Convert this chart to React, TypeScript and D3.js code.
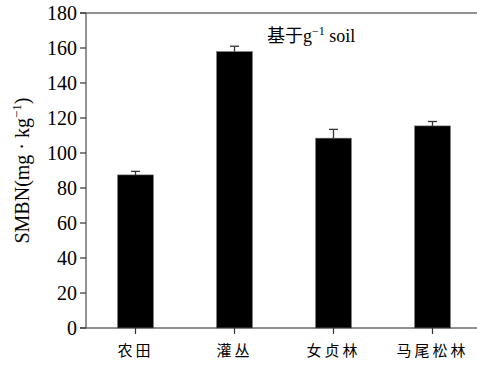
import React from 'react';
import * as d3 from 'd3';

const categories = ['农田', '灌丛', '女贞林', '马尾松林'];
const means = [87.5, 158, 108.5, 115.5];
const errors = [2, 3, 5, 2.5];
const yTicks = [0, 20, 40, 60, 80, 100, 120, 140, 160, 180];

const W = 477;
const H = 372;
const margin = { top: 13, right: 0, bottom: 44, left: 86 };

const serif = '"Liberation Serif", "Times New Roman", serif';
const cjk = '"Liberation Serif", "Noto Sans CJK SC", serif';

export default function App() {
  const x = d3.scaleBand<string>()
    .domain(categories)
    .range([margin.left, margin.left + 99 * categories.length])
    .paddingInner(0.636)
    .paddingOuter(0.318);
  const y = d3.scaleLinear().domain([0, 180]).range([H - margin.bottom, margin.top]);

  const y0 = y(0);
  const bw = x.bandwidth();

  return (
    <svg width={W} height={H} style={{ position: 'absolute', left: 0, top: 0, background: '#fff' }}>
      {/* bars */}
      <g>
        {categories.map((c, i) => (
          <rect key={c} x={x(c)} y={y(means[i])} width={bw} height={y0 - y(means[i])}
            fill="#000" stroke="#888" strokeWidth={0.6} />
        ))}
      </g>
      {/* error bars, upper only */}
      <g stroke="#333" strokeWidth={1.3}>
        {categories.map((c, i) => {
          const cx = (x(c) as number) + bw / 2;
          const top = y(means[i] + errors[i]);
          return (
            <g key={c}>
              <line x1={cx} x2={cx} y1={y(means[i])} y2={top} />
              <line x1={cx - 4.5} x2={cx + 4.5} y1={top} y2={top} />
            </g>
          );
        })}
      </g>
      {/* frame lines */}
      <line x1={80} x2={W} y1={y(180)} y2={y(180)} stroke="#222" strokeWidth={1.2} />
      <line x1={80} x2={W} y1={y0} y2={y0} stroke="#222" strokeWidth={1.2} />
      <line x1={margin.left} x2={margin.left} y1={y(180)} y2={y0} stroke="#666" strokeWidth={1.4} />
      {/* y ticks */}
      <g fontFamily={serif} fontSize={20} fill="#000">
        {yTicks.map(t => (
          <g key={t}>
            <line x1={80} x2={margin.left} y1={y(t)} y2={y(t)} stroke="#333" strokeWidth={1.2} />
            <text x={77} y={y(t)} dy="0.34em" textAnchor="end">{t}</text>
          </g>
        ))}
      </g>
      {/* x ticks */}
      <g fontFamily={cjk} fontSize={15} fill="#000">
        {categories.map(c => {
          const cx = (x(c) as number) + bw / 2;
          return (
            <g key={c}>
              <line x1={cx} x2={cx} y1={y0} y2={y0 + 6} stroke="#333" strokeWidth={1.2} />
              <text x={cx} y={356} textAnchor="middle" letterSpacing={3}>{c}</text>
            </g>
          );
        })}
      </g>
      {/* y axis label */}
      <text transform={`translate(29,${(y(180) + y0) / 2}) rotate(-90)`} textAnchor="middle"
        fontFamily={serif} fontSize={20} fill="#000">
        SMBN(mg · kg<tspan dy={-8} fontSize={13}>−1</tspan><tspan dy={8}>)</tspan>
      </text>
      {/* annotation */}
      <text x={267} y={42} fontFamily={cjk} fontSize={18} fill="#000">
        基于g<tspan dy={-7} fontSize={12}>−1</tspan><tspan dy={7}> soil</tspan>
      </text>
    </svg>
  );
}
